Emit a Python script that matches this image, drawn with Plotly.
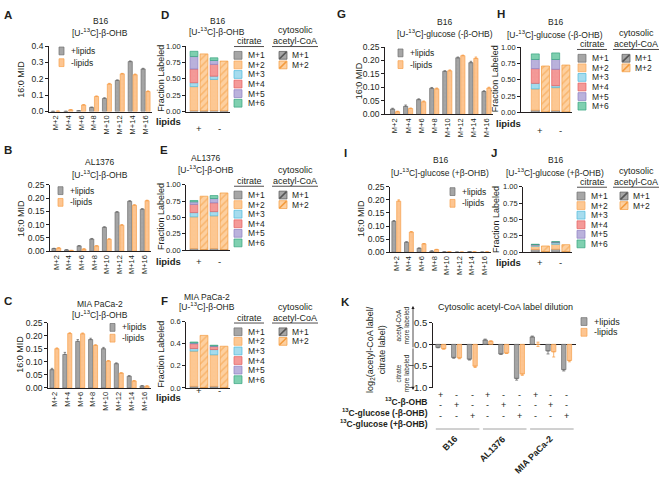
import numpy as np
import plotly.graph_objects as go

W, H = 660, 477
FONT = "Liberation Sans, Arial, sans-serif"
INK = "#231f20"

# ---- data -------------------------------------------------------------
isotopologues = ["M+2", "M+4", "M+6", "M+8", "M+10", "M+12", "M+14", "M+16"]

# A: B16, [U-13C]-b-OHB
a_plus = [0.001, 0.001, 0.005, 0.025, 0.080, 0.190, 0.305, 0.260]
a_plus_err = [0.000, 0.000, 0.001, 0.002, 0.004, 0.003, 0.004, 0.004]
a_minus = [0.002, 0.010, 0.040, 0.092, 0.168, 0.230, 0.225, 0.122]
a_minus_err = [0.000, 0.001, 0.002, 0.003, 0.004, 0.003, 0.004, 0.004]

# B: AL1376, [U-13C]-b-OHB
b_plus = [0.010, 0.005, 0.020, 0.046, 0.090, 0.147, 0.188, 0.158]
b_plus_err = [0.001, 0.001, 0.001, 0.002, 0.002, 0.002, 0.002, 0.002]
b_minus = [0.012, 0.003, 0.008, 0.020, 0.045, 0.098, 0.173, 0.190]
b_minus_err = [0.001, 0.000, 0.001, 0.001, 0.002, 0.002, 0.002, 0.002]

# C: MIA PaCa-2, [U-13C]-b-OHB
c_plus = [0.070, 0.128, 0.178, 0.185, 0.150, 0.093, 0.045, 0.008]
c_plus_err = [0.005, 0.008, 0.007, 0.005, 0.005, 0.003, 0.002, 0.001]
c_minus = [0.150, 0.208, 0.207, 0.163, 0.103, 0.057, 0.027, 0.007]
c_minus_err = [0.003, 0.003, 0.003, 0.002, 0.002, 0.001, 0.001, 0.001]

# G: B16, [U-13C]-glucose (-b-OHB)
g_plus = [0.020, 0.030, 0.055, 0.097, 0.160, 0.210, 0.192, 0.085]
g_plus_err = [0.003, 0.005, 0.003, 0.003, 0.002, 0.003, 0.005, 0.003]
g_minus = [0.010, 0.022, 0.047, 0.095, 0.162, 0.218, 0.208, 0.098]
g_minus_err = [0.002, 0.002, 0.003, 0.003, 0.003, 0.002, 0.005, 0.003]

# I: B16, [U-13C]-glucose (+b-OHB)
i_plus = [0.118, 0.038, 0.015, 0.004, 0.001, 0.000, 0.002, 0.000]
i_plus_err = [0.003, 0.002, 0.001, 0.001, 0.000, 0.000, 0.000, 0.000]
i_minus = [0.195, 0.077, 0.032, 0.010, 0.002, 0.000, 0.001, 0.001]
i_minus_err = [0.005, 0.002, 0.001, 0.001, 0.000, 0.000, 0.000, 0.000]

# fraction labeled: citrate M+1..M+6, cytosolic acetyl-CoA M+1..M+2
citrate_labels = ["M+1", "M+2", "M+3", "M+4", "M+5", "M+6"]
acoa_labels = ["M+1", "M+2"]

d_cit_plus = [0.015, 0.365, 0.060, 0.210, 0.190, 0.080]
d_cit_minus = [0.015, 0.475, 0.050, 0.180, 0.060, 0.040]
d_acoa_plus = [0.010, 0.870]
d_acoa_minus = [0.010, 0.760]

e_cit_plus = [0.025, 0.485, 0.065, 0.125, 0.040, 0.020]
e_cit_minus = [0.025, 0.500, 0.065, 0.135, 0.065, 0.045]
e_acoa_plus = [0.010, 0.815]
e_acoa_minus = [0.010, 0.865]

f_cit_plus = [0.015, 0.318, 0.023, 0.044, 0.007, 0.008]
f_cit_minus = [0.015, 0.285, 0.047, 0.027, 0.006, 0.006]
f_acoa_plus = [0.005, 0.470]
f_acoa_minus = [0.005, 0.372]

h_cit_plus = [0.035, 0.325, 0.085, 0.225, 0.140, 0.085]
h_cit_minus = [0.030, 0.350, 0.030, 0.250, 0.150, 0.100]
h_acoa_plus = [0.010, 0.700]
h_acoa_minus = [0.010, 0.715]

j_cit_plus = [0.040, 0.050, 0.020, 0.005, 0.003, 0.002]
j_cit_minus = [0.045, 0.075, 0.025, 0.005, 0.005, 0.005]
j_acoa_plus = [0.010, 0.085]
j_acoa_minus = [0.010, 0.105]

# K: log2(acetyl-CoA label / citrate label)
k_conditions = ["B16 OHB", "B16 glc-", "B16 glc+",
                "AL1376 OHB", "AL1376 glc-", "AL1376 glc+",
                "MIA OHB", "MIA glc-", "MIA glc+"]
k_plus = [-0.07, -0.30, -0.34, 0.10, -0.22, -0.78, 0.17, -0.15, -0.58]
k_plus_err = [0.01, 0.02, 0.02, 0.02, 0.01, 0.04, 0.02, 0.07, 0.03]
k_minus = [-0.10, -0.31, -0.50, 0.07, -0.20, -0.68, 0.00, -0.17, -0.37]
k_minus_err = [0.01, 0.02, 0.03, 0.01, 0.01, 0.03, 0.05, 0.12, 0.03]
k_rows = ["<sup>13</sup>C-β-OHB", "<sup>13</sup>C-glucose (-β-OHB)", "<sup>13</sup>C-glucose (+β-OHB)"]
k_row_signs = [
    ["+", "-", "-", "+", "-", "-", "+", "-", "-"],
    ["-", "+", "-", "-", "+", "-", "-", "+", "-"],
    ["-", "-", "+", "-", "-", "+", "-", "-", "+"],
]
k_groups = ["B16", "AL1376", "MIA PaCa-2"]

# ---- styles -----------------------------------------------------------
GRAY_FILL, GRAY_EDGE = "#a6a6a6", "#6f6f6f"
ORANGE_FILL, ORANGE_EDGE = "#fdc591", "#f6a04c"
CIT_FILL = ["#a6a6a6", "#fdc893", "#a6dcee", "#f49a98", "#bab2dc", "#7fd0b0"]
CIT_EDGE = ["#6f6f6f", "#f6a65a", "#4fb9da", "#e45f5f", "#8c80c2", "#36a37f"]
ACOA_FILL = ["#a6a6a6", "#fdd0a0"]
ACOA_HATCH = ["#555555", "#f39b3d"]
STACK_X = ["citrate +", "acetyl-CoA +", "citrate -", "acetyl-CoA -"]

fig = go.Figure()
n_axes = [0]


def X(v):
    return v / W


def Y(v):
    return 1 - v / H


def txt(x, y, s, size=8, xanchor="center", yanchor="middle", angle=0, color=INK):
    fig.add_annotation(x=X(x), y=Y(y), xref="paper", yref="paper", text=s,
                       showarrow=False, textangle=angle, xanchor=xanchor,
                       yanchor=yanchor, font=dict(family=FONT, size=size, color=color))


def new_axes(x0, x1, y0, y1, xrange, yrange, xkw=None, ykw=None):
    n_axes[0] += 1
    s = "" if n_axes[0] == 1 else str(n_axes[0])
    base = dict(showgrid=False, zeroline=False, linecolor=INK, linewidth=0.8,
                tickcolor=INK, tickwidth=0.8, fixedrange=True,
                tickfont=dict(family=FONT, size=8.5, color=INK))
    xa = dict(base, domain=[X(x0), X(x1)], range=xrange, anchor="y" + s)
    ya = dict(base, domain=[Y(y1), Y(y0)], range=yrange, anchor="x" + s)
    xa.update(xkw or {})
    ya.update(ykw or {})
    fig.update_layout({"xaxis" + s: xa, "yaxis" + s: ya})
    return "x" + s, "y" + s


def y_kw(dtick, fmt, size=8.5):
    return dict(showline=True, ticks="outside", ticklen=3, dtick=dtick, tickformat=fmt,
                tickfont=dict(family=FONT, size=size, color=INK))


def mid_panel(box, xrange, ymax, dtick, fmt, plus, plus_err, minus, minus_err):
    xa, ya = new_axes(*box, xrange, [0, ymax],
                      xkw=dict(type="category", showline=True, ticks="", tickangle=-90,
                               tickfont=dict(family=FONT, size=7.5, color=INK)),
                      ykw=y_kw(dtick, fmt))
    for vals, errs, fill, edge, off in ((plus, plus_err, GRAY_FILL, GRAY_EDGE, -0.35),
                                        (minus, minus_err, ORANGE_FILL, ORANGE_EDGE, 0.03)):
        fig.add_trace(go.Bar(
            x=isotopologues, y=vals, xaxis=xa, yaxis=ya, offset=off, width=0.32,
            marker=dict(color=fill, line=dict(color=edge, width=0.7),
                        pattern=dict(shape="+", fgcolor=edge, fgopacity=0.25, size=4, solidity=0.1)),
            error_y=dict(type="data", array=errs, arrayminus=[0] * len(errs), symmetric=False,
                         color=edge, thickness=0.8, width=1.2),
            showlegend=False, hoverinfo="skip"))


def stack_panel(box, xrange, ymax, dtick, fmt, cit_plus, cit_minus, acoa_plus, acoa_minus, sign_y):
    xa, ya = new_axes(*box, xrange, [0, ymax],
                      xkw=dict(type="category", categoryorder="array", categoryarray=STACK_X,
                               showline=True, showticklabels=False, ticks=""),
                      ykw=y_kw(dtick, fmt, 7.5))
    cit = np.array([cit_plus, cit_minus])
    cit_base = np.cumsum(cit, axis=1) - cit
    for k in range(len(citrate_labels)):
        fig.add_trace(go.Bar(
            x=[STACK_X[0], STACK_X[2]], y=cit[:, k], base=cit_base[:, k], xaxis=xa, yaxis=ya,
            width=0.78,
            marker=dict(color=CIT_FILL[k], line=dict(color=CIT_EDGE[k], width=0.7),
                        pattern=dict(shape="+", fgcolor=CIT_EDGE[k], fgopacity=0.2, size=4, solidity=0.1)),
            showlegend=False, hoverinfo="skip"))
    acoa = np.array([acoa_plus, acoa_minus])
    acoa_base = np.cumsum(acoa, axis=1) - acoa
    for k in range(len(acoa_labels)):
        fig.add_trace(go.Bar(
            x=[STACK_X[1], STACK_X[3]], y=acoa[:, k], base=acoa_base[:, k], xaxis=xa, yaxis=ya,
            width=0.78,
            marker=dict(color=ACOA_FILL[k], line=dict(color=ACOA_HATCH[k], width=0.7),
                        pattern=dict(shape="/", fgcolor=ACOA_HATCH[k], bgcolor=ACOA_FILL[k],
                                     size=5, solidity=0.3)),
            showlegend=False, hoverinfo="skip"))
    for pos, s in ((0.5, "+"), (2.5, "-")):
        fig.add_annotation(x=pos, y=Y(sign_y), xref=xa, yref="paper", text=s, showarrow=False,
                           font=dict(family=FONT, size=9.5, color=INK))


def swatch(x0, yc, w, h, fill, edge, hatch=None):
    fig.add_shape(type="rect", xref="paper", yref="paper", x0=X(x0), x1=X(x0 + w),
                  y0=Y(yc + h / 2), y1=Y(yc - h / 2), fillcolor=fill,
                  line=dict(color=edge, width=0.7))
    if hatch:
        fig.add_shape(type="line", xref="paper", yref="paper", x0=X(x0 + 0.5), y0=Y(yc + h / 2 - 0.5),
                      x1=X(x0 + w - 0.5), y1=Y(yc - h / 2 + 0.5), line=dict(color=hatch, width=1.6))


def lipid_legend(sx, y1, y2, w=5, h=8, size=8.5):
    swatch(sx, y1, w, h, GRAY_FILL, GRAY_EDGE)
    swatch(sx, y2, w, h, ORANGE_FILL, ORANGE_EDGE)
    txt(sx + w + 5, y1, "+lipids", size, xanchor="left")
    txt(sx + w + 5, y2, "-lipids", size, xanchor="left")


def label_legend(head_y, cit_cx, cit_sx, acoa_cx, acoa_sx, step=9.8):
    txt(cit_cx, head_y, "citrate", 9)
    fig.add_shape(type="line", xref="paper", yref="paper", x0=X(cit_cx - 15), x1=X(cit_cx + 15),
                  y0=Y(head_y + 5.5), y1=Y(head_y + 5.5), line=dict(color=INK, width=0.8))
    txt(acoa_cx, head_y - 11, "cytosolic", 9)
    txt(acoa_cx, head_y, "acetyl-CoA", 9)
    fig.add_shape(type="line", xref="paper", yref="paper", x0=X(acoa_cx - 23), x1=X(acoa_cx + 23),
                  y0=Y(head_y + 5.5), y1=Y(head_y + 5.5), line=dict(color=INK, width=0.8))
    first = head_y + 14.5
    for k, lab in enumerate(citrate_labels):
        swatch(cit_sx, first + k * step, 8, 8, CIT_FILL[k], CIT_EDGE[k])
        txt(cit_sx + 12, first + k * step, lab, 8.5, xanchor="left")
    for k, lab in enumerate(acoa_labels):
        swatch(acoa_sx, first + k * step, 8, 8, ACOA_FILL[k], ACOA_HATCH[k], hatch=ACOA_HATCH[k])
        txt(acoa_sx + 11, first + k * step, lab, 8.5, xanchor="left")


def title(cx, y1, l1, y2, l2):
    txt(cx, y1, l1, 8.5)
    txt(cx, y2, l2, 8.5)


OHB = "[U-<sup>13</sup>C]-β-OHB"

# ---- MID panels -------------------------------------------------------
mid_panel((49, 152, 41, 108), [-0.5, 7.5], 0.4, 0.1, ".1f", a_plus, a_plus_err, a_minus, a_minus_err)
mid_panel((50, 151, 183, 251), [-0.5, 7.5], 0.25, 0.05, ".2f", b_plus, b_plus_err, b_minus, b_minus_err)
mid_panel((48, 151, 324, 391), [-0.5, 7.5], 0.25, 0.05, ".2f", c_plus, c_plus_err, c_minus, c_minus_err)
mid_panel((385, 493, 42, 111), [-0.77, 7.5], 0.25, 0.05, ".2f", g_plus, g_plus_err, g_minus, g_minus_err)
mid_panel((390, 491, 185, 252), [-0.5, 7.5], 0.25, 0.05, ".2f", i_plus, i_plus_err, i_minus, i_minus_err)

# ---- fraction labeled panels -----------------------------------------
stack_panel((186, 230, 41, 108), [-0.8, 3.6], 1.0, 0.25, ".2f",
            d_cit_plus, d_cit_minus, d_acoa_plus, d_acoa_minus, 118)
stack_panel((186, 230, 183, 250), [-0.8, 3.6], 1.0, 0.25, ".2f",
            e_cit_plus, e_cit_minus, e_acoa_plus, e_acoa_minus, 262)
stack_panel((186, 230, 323, 391), [-0.8, 3.6], 0.6, 0.2, ".1f",
            f_cit_plus, f_cit_minus, f_acoa_plus, f_acoa_minus, 401)
stack_panel((521, 572, 42, 109), [-1.4, 3.6], 1.0, 0.25, ".2f",
            h_cit_plus, h_cit_minus, h_acoa_plus, h_acoa_minus, 120)
stack_panel((523, 572, 185, 252), [-1.2, 3.6], 1.0, 0.25, ".2f",
            j_cit_plus, j_cit_minus, j_acoa_plus, j_acoa_minus, 263)

# ---- K ---------------------------------------------------------------
kx, ky = new_axes(433, 576, 324, 391, [-0.5, 8.6], [-1.0, 0.5],
                  xkw=dict(type="category", categoryorder="array", categoryarray=k_conditions,
                           showline=False, showticklabels=False, ticks=""),
                  ykw=dict(y_kw(0.5, ".1f", 9.5), zeroline=True, zerolinecolor=INK, zerolinewidth=0.8))
for vals, errs, fill, edge, off in ((k_plus, k_plus_err, GRAY_FILL, GRAY_EDGE, -0.32),
                                    (k_minus, k_minus_err, ORANGE_FILL, ORANGE_EDGE, 0.04)):
    v = np.array(vals)
    e = np.array(errs)
    fig.add_trace(go.Bar(
        x=k_conditions, y=vals, xaxis=kx, yaxis=ky, offset=off, width=0.28,
        marker=dict(color=fill, line=dict(color=edge, width=0.7),
                    pattern=dict(shape="+", fgcolor=edge, fgopacity=0.25, size=4, solidity=0.1)),
        error_y=dict(type="data", symmetric=False, array=np.where(v >= 0, e, 0),
                     arrayminus=np.where(v <= 0, e, 0), color=edge, thickness=0.8, width=1.5),
        showlegend=False, hoverinfo="skip"))

txt(505, 308, "Cytosolic acetyl-CoA label dilution", 9)
txt(376, 352, "log<sub>2</sub>(acetyl-CoA label/<br>citrate label)", 9, angle=-90)
txt(402, 327, "acetyl-CoA<br>more labeled", 6.5, angle=-90)
txt(402, 376, "citrate<br>more labeled", 6.5, angle=-90)
for tip, dy in ((307, 43), (393, -43)):
    fig.add_annotation(x=X(413), y=Y(tip), xref="paper", yref="paper", ax=0, ay=dy, text="",
                       showarrow=True, arrowhead=2, arrowsize=0.8, arrowwidth=0.8, arrowcolor=INK)
for r, (row, signs) in enumerate(zip(k_rows, k_row_signs)):
    ry = 405 + r * 11
    txt(430, ry, "<b>" + row + "</b>", 8.5, xanchor="right")
    for cond, s in zip(k_conditions, signs):
        fig.add_annotation(x=cond, y=Y(ry), xref=kx, yref="paper", text=s, showarrow=False,
                           font=dict(family=FONT, size=9, color=INK))
for g, name in enumerate(k_groups):
    fig.add_shape(type="line", xref=kx, yref="paper", x0=g * 3 - 0.32, x1=g * 3 + 2.45,
                  y0=Y(433), y1=Y(433), line=dict(color="#8a8a8a", width=0.8))
    fig.add_annotation(x=g * 3 + 1.4, y=Y(435), xref=kx, yref="paper", text="<b>" + name + "</b>",
                       showarrow=False, textangle=-45, xanchor="right", yanchor="top",
                       font=dict(family=FONT, size=9, color=INK))

# ---- titles, axis labels, legends -----------------------------------
title(100, 15, "B16", 27, OHB)
title(100, 160, "AL1376", 172, OHB)
title(100, 305, "MIA PaCa-2", 316, OHB)
title(217, 15, "B16", 26, OHB)
title(206, 156, "AL1376", 167, OHB)
title(207, 298, "MIA PaCa-2", 308, OHB)
title(445, 16, "B16", 28, "[U-<sup>13</sup>C]-glucose (-β-OHB)")
title(555, 16, "B16", 29, "[U-<sup>13</sup>C]-glucose (-β-OHB)")
title(440, 158, "B16", 170, "[U-<sup>13</sup>C]-glucose (+β-OHB)")
title(555, 158, "B16", 170, "[U-<sup>13</sup>C]-glucose (+β-OHB)")

for x, yc in ((21, 74.5), (21, 217), (20, 357), (359, 77), (361, 218)):
    txt(x, yc, "16:0 MID", 9, angle=-90)
for x, yc in ((161, 74.5), (161, 216), (161, 357), (495, 75), (496, 218)):
    txt(x, yc, "Fraction Labeled", 9, angle=-90)
for x, yc in ((183, 118), (183, 262), (183, 401), (523, 120), (523, 263)):
    txt(x, yc, "<b>lipids</b>", 9.5, xanchor="right")

lipid_legend(59, 46, 58)
lipid_legend(58, 189, 201)
lipid_legend(110, 329, 340)
lipid_legend(398, 48, 60)
lipid_legend(450, 190, 202)
lipid_legend(581, 323, 334, w=6, h=8, size=9)

label_legend(36, 249, 234, 295, 279)
label_legend(179, 249, 234, 295, 279)
label_legend(319, 249, 234, 295, 279)
label_legend(39, 592, 578, 636, 622)
label_legend(180, 592, 577, 636, 620)

for letter, x, y in (("A", 8, 9), ("B", 8, 147), ("C", 8, 302), ("D", 165, 9), ("E", 164, 147),
                     ("F", 164, 302), ("G", 341, 8), ("H", 501, 8), ("I", 345, 150),
                     ("J", 494, 150), ("K", 345, 303)):
    txt(x, y, "<b>" + letter + "</b>", 11.5)

fig.update_layout(width=W, height=H, margin=dict(l=0, r=0, t=0, b=0),
                  paper_bgcolor="white", plot_bgcolor="white", barmode="overlay",
                  showlegend=False)

# the page's default body margin would push the 660x477 figure off the window
fig.write_html("out.html", config={"displayModeBar": False},
               post_script="document.body.style.margin='0px';")
